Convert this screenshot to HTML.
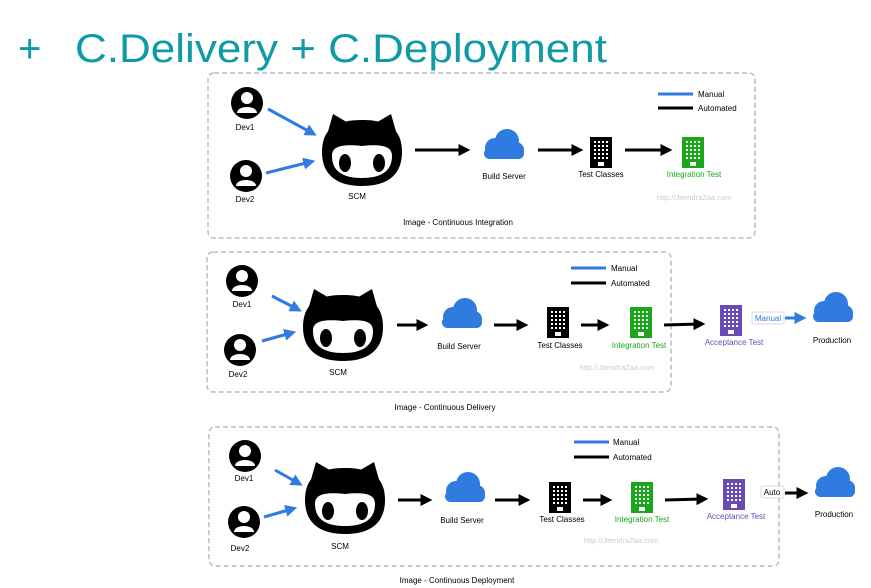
<!DOCTYPE html>
<html><head><meta charset="utf-8"><style>
html,body{margin:0;padding:0;background:#fff;}
svg{display:block;}
text{font-family:"Liberation Sans",sans-serif;}
</style></head><body>
<svg width="871" height="588" viewBox="0 0 871 588" xmlns="http://www.w3.org/2000/svg">
<defs>
<marker id="ab" markerWidth="4" markerHeight="4" refX="2.2" refY="2" orient="auto" markerUnits="strokeWidth"><path d="M0,0 L4,2 L0,4 z" fill="#000"/></marker>
<marker id="au" markerWidth="4" markerHeight="4" refX="2.2" refY="2" orient="auto" markerUnits="strokeWidth"><path d="M0,0 L4,2 L0,4 z" fill="#2f7be0"/></marker>
<g id="cat">
<path d="M-37,-8 L-29,-36 L-12,-26 Z M37,-8 L29,-36 L12,-26 Z" fill="#000"/>
<path d="M-40,2 C-40,-24 -22,-30 0,-30 C22,-30 40,-24 40,2 C40,26 24,36 0,36 C-24,36 -40,26 -40,2 Z" fill="#000"/>
<path d="M-30,6 C-30,-4 -20,-6 0,-4 C20,-6 30,-4 30,6 C30,22 18,28 0,28 C-18,28 -30,22 -30,6 Z" fill="#fff"/>
<ellipse cx="-17" cy="13" rx="6" ry="9" fill="#000"/>
<ellipse cx="17" cy="13" rx="6" ry="9" fill="#000"/>
</g>
<g id="person">
<circle r="16" fill="#000"/>
<circle cx="0" cy="-5" r="6" fill="#fff"/>
<path d="M-10,10 C-10,2 10,2 10,10 Z" fill="#fff"/>
</g>
<g id="cloud" fill="#2f7be0">
<circle cx="-8" cy="2" r="10"/><circle cx="4" cy="-5" r="12"/><circle cx="13" cy="4" r="8"/>
<rect x="-19" y="2" width="40" height="11" rx="5.5"/>
</g>
<g id="bld">
<rect x="0" y="0" width="22" height="31"/>
<g fill="#fff">
<rect x="4" y="4" width="2" height="2"/><rect x="8" y="4" width="2" height="2"/><rect x="12" y="4" width="2" height="2"/><rect x="16" y="4" width="2" height="2"/>
<rect x="4" y="8" width="2" height="2"/><rect x="8" y="8" width="2" height="2"/><rect x="12" y="8" width="2" height="2"/><rect x="16" y="8" width="2" height="2"/>
<rect x="4" y="12" width="2" height="2"/><rect x="8" y="12" width="2" height="2"/><rect x="12" y="12" width="2" height="2"/><rect x="16" y="12" width="2" height="2"/>
<rect x="4" y="16" width="2" height="2"/><rect x="8" y="16" width="2" height="2"/><rect x="12" y="16" width="2" height="2"/><rect x="16" y="16" width="2" height="2"/>
<rect x="4" y="20" width="2" height="2"/><rect x="8" y="20" width="2" height="2"/><rect x="12" y="20" width="2" height="2"/><rect x="16" y="20" width="2" height="2"/>
<rect x="8" y="25" width="6" height="4"/>
</g>
</g>
</defs>

<text x="18" y="62" font-size="40" fill="#0f9aa6">+</text>
<text x="75" y="62" font-size="40" fill="#0f9aa6" textLength="532" lengthAdjust="spacingAndGlyphs">C.Delivery + C.Deployment</text>

<g font-size="8" fill="#000" text-anchor="middle">
<!-- Diagram 1 -->
<rect x="208" y="73" width="547" height="165" rx="6" fill="none" stroke="#bbb" stroke-width="1.5" stroke-dasharray="5,3"/>
<use href="#person" x="247" y="103"/><text x="245" y="130">Dev1</text>
<use href="#person" x="246" y="176"/><text x="245" y="202">Dev2</text>
<line x1="268" y1="109" x2="312" y2="133" stroke="#2f7be0" stroke-width="3" marker-end="url(#au)"/>
<line x1="266" y1="173" x2="310" y2="162" stroke="#2f7be0" stroke-width="3" marker-end="url(#au)"/>
<use href="#cat" x="362" y="150"/><text x="357" y="199">SCM</text>
<line x1="415" y1="150" x2="465" y2="150" stroke="#000" stroke-width="3" marker-end="url(#ab)"/>
<use href="#cloud" x="503" y="146"/><text x="504" y="179">Build Server</text>
<line x1="538" y1="150" x2="578" y2="150" stroke="#000" stroke-width="3" marker-end="url(#ab)"/>
<use href="#bld" x="590" y="137"/><text x="601" y="177">Test Classes</text>
<line x1="625" y1="150" x2="667" y2="150" stroke="#000" stroke-width="3" marker-end="url(#ab)"/>
<use href="#bld" x="682" y="137" fill="#1aa81a"/><text x="694" y="177" fill="#1aa81a">Integration Test</text>
<line x1="658" y1="94" x2="693" y2="94" stroke="#2f7be0" stroke-width="3"/><text x="698" y="97" text-anchor="start">Manual</text>
<line x1="658" y1="108" x2="693" y2="108" stroke="#000" stroke-width="3"/><text x="698" y="111" text-anchor="start">Automated</text>
<text x="694" y="200" fill="#ccc" font-size="7.5">http://JitendraZaa.com</text>
<text x="458" y="225">Image - Continuous Integration</text>

<!-- Diagram 2 -->
<rect x="207" y="252" width="464" height="140" rx="6" fill="none" stroke="#bbb" stroke-width="1.5" stroke-dasharray="5,3"/>
<use href="#person" x="242" y="281"/><text x="242" y="307">Dev1</text>
<use href="#person" x="240" y="350"/><text x="238" y="377">Dev2</text>
<line x1="272" y1="296" x2="297" y2="309" stroke="#2f7be0" stroke-width="3" marker-end="url(#au)"/>
<line x1="262" y1="341" x2="291" y2="333" stroke="#2f7be0" stroke-width="3" marker-end="url(#au)"/>
<use href="#cat" x="343" y="325"/><text x="338" y="375">SCM</text>
<line x1="397" y1="325" x2="423" y2="325" stroke="#000" stroke-width="3" marker-end="url(#ab)"/>
<use href="#cloud" x="461" y="315"/><text x="459" y="349">Build Server</text>
<line x1="494" y1="325" x2="523" y2="325" stroke="#000" stroke-width="3" marker-end="url(#ab)"/>
<use href="#bld" x="547" y="307"/><text x="560" y="348">Test Classes</text>
<line x1="581" y1="325" x2="604" y2="325" stroke="#000" stroke-width="3" marker-end="url(#ab)"/>
<use href="#bld" x="630" y="307" fill="#1aa81a"/><text x="639" y="348" fill="#1aa81a">Integration Test</text>
<line x1="664" y1="325" x2="700" y2="324" stroke="#000" stroke-width="3" marker-end="url(#ab)"/>
<use href="#bld" x="720" y="305" fill="#6a4bb5"/><text x="734" y="345" fill="#6a4bb5">Acceptance Test</text>
<rect x="752" y="312" width="32" height="12" rx="2" fill="#fff" stroke="#ccc" stroke-width="0.7"/><text x="768" y="321" fill="#2f7be0">Manual</text>
<line x1="785" y1="318" x2="801" y2="318" stroke="#2f7be0" stroke-width="3" marker-end="url(#au)"/>
<use href="#cloud" x="832" y="309"/><text x="832" y="343">Production</text>
<line x1="571" y1="268" x2="606" y2="268" stroke="#2f7be0" stroke-width="3"/><text x="611" y="271" text-anchor="start">Manual</text>
<line x1="571" y1="283" x2="606" y2="283" stroke="#000" stroke-width="3"/><text x="611" y="286" text-anchor="start">Automated</text>
<text x="617" y="370" fill="#ccc" font-size="7.5">http://JitendraZaa.com</text>
<text x="445" y="410">Image - Continuous Delivery</text>

<!-- Diagram 3 -->
<rect x="209" y="427" width="570" height="139" rx="6" fill="none" stroke="#bbb" stroke-width="1.5" stroke-dasharray="5,3"/>
<use href="#person" x="245" y="456"/><text x="244" y="481">Dev1</text>
<use href="#person" x="244" y="522"/><text x="240" y="551">Dev2</text>
<line x1="275" y1="470" x2="298" y2="483" stroke="#2f7be0" stroke-width="3" marker-end="url(#au)"/>
<line x1="264" y1="517" x2="292" y2="509" stroke="#2f7be0" stroke-width="3" marker-end="url(#au)"/>
<use href="#cat" x="345" y="498"/><text x="340" y="549">SCM</text>
<line x1="398" y1="500" x2="427" y2="500" stroke="#000" stroke-width="3" marker-end="url(#ab)"/>
<use href="#cloud" x="464" y="489"/><text x="462" y="523">Build Server</text>
<line x1="495" y1="500" x2="525" y2="500" stroke="#000" stroke-width="3" marker-end="url(#ab)"/>
<use href="#bld" x="549" y="482"/><text x="562" y="522">Test Classes</text>
<line x1="583" y1="500" x2="607" y2="500" stroke="#000" stroke-width="3" marker-end="url(#ab)"/>
<use href="#bld" x="631" y="482" fill="#1aa81a"/><text x="642" y="522" fill="#1aa81a">Integration Test</text>
<line x1="665" y1="500" x2="703" y2="499" stroke="#000" stroke-width="3" marker-end="url(#ab)"/>
<use href="#bld" x="723" y="479" fill="#6a4bb5"/><text x="736" y="519" fill="#6a4bb5">Acceptance Test</text>
<rect x="761" y="486" width="23" height="12" rx="2" fill="#fff" stroke="#ccc" stroke-width="0.7"/><text x="772" y="495">Auto</text>
<line x1="785" y1="493" x2="803" y2="493" stroke="#000" stroke-width="3" marker-end="url(#ab)"/>
<use href="#cloud" x="834" y="484"/><text x="834" y="517">Production</text>
<line x1="574" y1="442" x2="609" y2="442" stroke="#2f7be0" stroke-width="3"/><text x="613" y="445" text-anchor="start">Manual</text>
<line x1="574" y1="457" x2="609" y2="457" stroke="#000" stroke-width="3"/><text x="613" y="460" text-anchor="start">Automated</text>
<text x="621" y="543" fill="#ccc" font-size="7.5">http://JitendraZaa.com</text>
<text x="457" y="583">Image - Continuous Deployment</text>
</g>
</svg>
</body></html>
